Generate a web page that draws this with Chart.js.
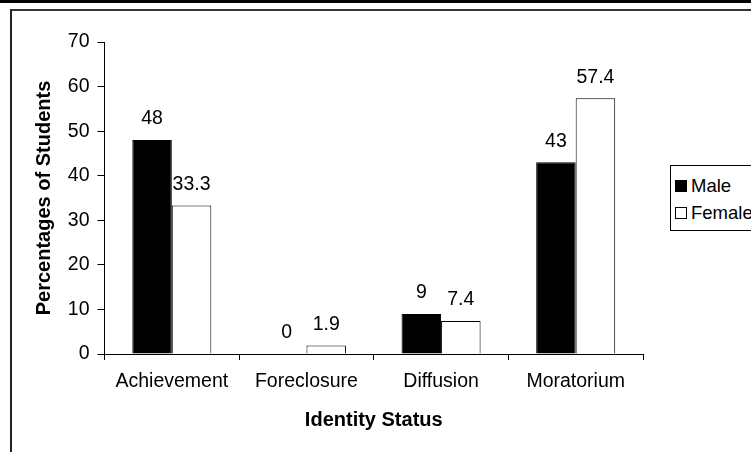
<!DOCTYPE html>
<html>
<head>
<meta charset="utf-8">
<script src="https://cdn.jsdelivr.net/npm/chart.js@4.4.1/dist/chart.umd.min.js"></script>
<style>
  html, body { margin:0; padding:0; background:#fff; }
  #wrap { position:relative; width:751px; height:452px; overflow:hidden; background:#fff;
          font-family:"Liberation Sans", Arial, sans-serif; }
  #topbar { position:absolute; left:0; top:0; width:751px; height:3px; background:#000; }
  #frame { position:absolute; left:10px; top:9px; width:800px; height:500px;
           border-left:2px solid #222; border-top:2px solid #333; }
  #c { position:absolute; left:0; top:0; }
  #legend { position:absolute; left:670px; top:165px; width:120px; height:64px;
            border:1px solid #000; background:#fff; font-size:18.5px; color:#000; }
  .item { position:absolute; left:4px; height:22px; line-height:22px; white-space:nowrap; }
  .box { display:inline-block; width:10px; height:10px; border:1px solid #000;
         margin-right:4px; vertical-align:middle; position:relative; top:-1px; }
</style>
</head>
<body>
<div id="wrap">
  <div id="topbar"></div>
  <div id="frame"></div>
  <canvas id="c" width="751" height="452"></canvas>
  <div id="legend"></div>
</div>
<script>
//data
var categories = ['Achievement', 'Foreclosure', 'Diffusion', 'Moratorium'];
var maleValues = [48, 0, 9, 43];
var femaleValues = [33.3, 1.9, 7.4, 57.4];
var seriesNames = ['Male', 'Female'];
var yTicks = [0, 10, 20, 30, 40, 50, 60, 70];

var FONT = '"Liberation Sans", Arial, sans-serif';

//writes the value above each bar
var valueLabels = {
  id: 'valueLabels',
  afterDatasetsDraw: function(chart) {
    var ctx = chart.ctx;
    ctx.save();
    ctx.font = '19.5px ' + FONT;
    ctx.fillStyle = '#000';
    ctx.textAlign = 'center';
    ctx.textBaseline = 'middle';
    chart.data.datasets.forEach(function(ds, i) {
      chart.getDatasetMeta(i).data.forEach(function(bar, j) {
        ctx.fillText(String(ds.data[j]), bar.x, bar.y - 21);
      });
    });
    ctx.restore();
  }
};

var chart = new Chart(document.getElementById('c'), {
  type: 'bar',
  data: {
    labels: categories,
    datasets: [
      { label: seriesNames[0], data: maleValues, backgroundColor: '#000', borderColor: '#000', borderWidth: 1 },
      { label: seriesNames[1], data: femaleValues, backgroundColor: '#fff', borderColor: '#000', borderWidth: 1 }
    ]
  },
  options: {
    responsive: false,
    animation: false,
    devicePixelRatio: 1,
    layout: { padding: { left: 0, top: 42, right: 108, bottom: 0 } },
    datasets: { bar: { categoryPercentage: 0.587, barPercentage: 1 } },
    plugins: { legend: { display: false }, tooltip: { enabled: false } },
    scales: {
      x: {
        grid: { display: true, offset: true, drawOnChartArea: false, drawTicks: true, tickLength: 6, color: '#000' },
        border: { color: '#000', width: 1 },
        ticks: { color: '#000', font: { family: FONT, size: 19.5 }, padding: 10, maxRotation: 0 },
        title: { display: true, text: 'Identity Status', color: '#000',
                 font: { family: FONT, size: 20, weight: 'bold' }, padding: { top: 0, bottom: 20 } },
        afterFit: function(s) { s.height = 98; }
      },
      y: {
        min: 0, max: 70,
        afterBuildTicks: function(s) { s.ticks = yTicks.map(function(v) { return { value: v }; }); },
        grid: { display: true, drawOnChartArea: false, drawTicks: true, tickLength: 7, color: '#000' },
        border: { color: '#000', width: 1 },
        ticks: { color: '#000', font: { family: FONT, size: 19.5 }, padding: 8 },
        title: { display: true, text: 'Percentages of Students', color: '#000',
                 font: { family: FONT, size: 20, weight: 'bold' }, padding: { top: 32, bottom: 0 } },
        afterFit: function(s) { s.width = 104.5; }
      }
    }
  },
  plugins: [valueLabels]
});

//legend made from the dataset names and colours
var lg = document.getElementById('legend');
chart.data.datasets.forEach(function(ds, i) {
  var it = document.createElement('div');
  it.className = 'item';
  it.style.top = (9 + i * 27) + 'px';
  var b = document.createElement('span');
  b.className = 'box';
  b.style.background = ds.backgroundColor;
  it.appendChild(b);
  it.appendChild(document.createTextNode(ds.label));
  lg.appendChild(it);
});
</script>
</body>
</html>
